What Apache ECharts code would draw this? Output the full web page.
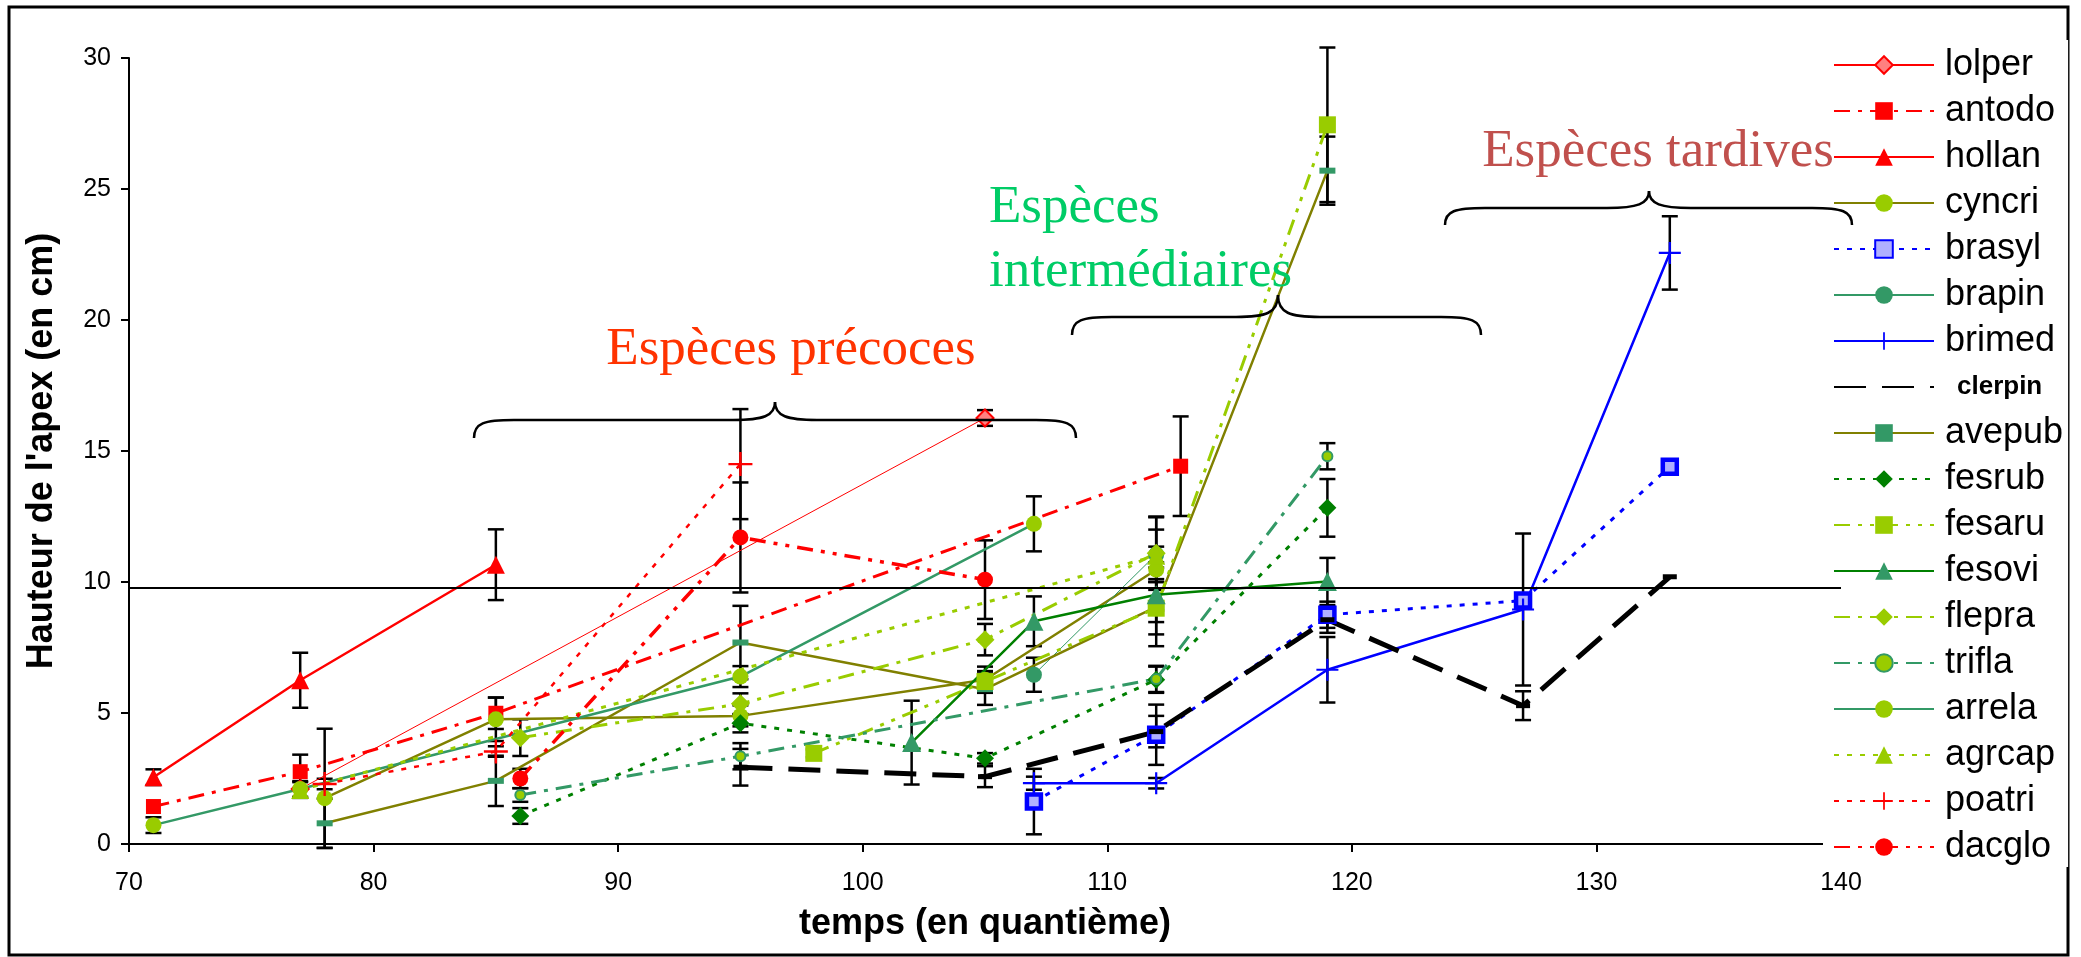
<!DOCTYPE html>
<html>
<head>
<meta charset="utf-8">
<title>Hauteur de l'apex</title>
<script src="https://cdn.jsdelivr.net/npm/echarts@6/dist/echarts.min.js"></script>
<style>
    html, body {margin: 0; padding: 0; background: #fff;}
    #chart {width: 2081px; height: 957px;}
</style>
</head>
<body>
<div id="chart"></div>
<script>
// valeurs : [quantième, hauteur]
var lolper = [[77, 2.1], [105, 16.26]];
var antodo = [[71, 1.43], [77, 2.76], [85, 4.99], [113, 14.42]];
var hollan = [[71, 2.55], [77, 6.25], [85, 10.66]];
var cyncri = [[78, 1.75], [85, 4.76], [95, 4.89], [105, 6.27], [112, 10.47]];
var brasyl = [[107, 1.62], [112, 4.17], [119, 8.75], [127, 9.29], [133, 14.4]];
var brapin = [[107, 6.46], [112, 11.05]];
var brimed = [[107, 2.32], [112, 2.32], [119, 6.65], [127, 8.95], [133, 22.56]];
var clerpin = [[95, 2.93], [105, 2.57], [112, 4.29], [119, 8.56], [127, 5.28], [133, 10.2]];
var avepub = [[78, 0.79], [85, 2.41], [95, 7.69], [105, 5.91], [112, 9.05], [119, 25.7]];
var fesrub = [[86, 1.07], [95, 4.61], [105, 3.27], [112, 6.27], [119, 12.83]];
var fesaru = [[98, 3.46], [105, 6.2], [112, 9.0], [119, 27.45]];
var fesovi = [[102, 3.87], [107, 8.5], [112, 9.51], [119, 10.02]];
var flepra = [[86, 4.06], [95, 5.35], [105, 7.8], [112, 11.1]];
var trifla = [[86, 1.87], [95, 3.35], [112, 6.3], [119, 14.8]];
var arrela = [[71, 0.72], [77, 2.1], [95, 6.39], [107, 12.22]];
var agrcap = [[77, 2.06], [112, 11.0]];
var poatri = [[78, 2.29], [85, 3.53], [95, 14.5]];
var dacglo = [[86, 2.5], [95, 11.7], [105, 10.09]];

// barres d'erreur (demi-largeur), dans l'ordre des points
var lolperErr = [0, 0.3];
var antodoErr = [0, 0.65, 0.6, 1.9];
var hollanErr = [0.3, 1.05, 1.35];
var cyncriErr = [2.65, 0.83, 0.4, 0.5, 2.0];
var brasylErr = [1.25, 1.15, 0.5, 0, 0];
var brapinErr = [0.65, 0.3];
var brimedErr = [0.25, 0.2, 1.25, 2.9, 1.4];
var clerpinErr = [0.7, 0.4, 0.6, 0.5, 0.55, 0];
var avepubErr = [0.94, 0.96, 1.4, 0.6, 1.5, 1.3];
var fesrubErr = [0.3, 0.35, 0.2, 0.5, 1.1];
var fesaruErr = [0.15, 0.4, 1.0, 2.95];
var fesoviErr = [1.6, 0.95, 0.6, 0.9];
var flepraErr = [0.7, 0.4, 0.6, 1.4];
var triflaErr = [0.26, 0.5, 0.5, 0.5];
var arrelaErr = [0.3, 0.3, 0.4, 1.05];
var agrcapErr = [0.3, 1.0];
var poatriErr = [0.2, 0.2, 2.1];
var dacgloErr = [0.37, 2.1, 1.5];

var seuil = 9.77; // ligne horizontale

var especes = ['lolper', 'antodo', 'hollan', 'cyncri', 'brasyl', 'brapin', 'brimed', 'clerpin', 'avepub',
    'fesrub', 'fesaru', 'fesovi', 'flepra', 'trifla', 'arrela', 'agrcap', 'poatri', 'dacglo'];
var donnees = {
    lolper: [lolper, lolperErr], antodo: [antodo, antodoErr], hollan: [hollan, hollanErr],
    cyncri: [cyncri, cyncriErr], brasyl: [brasyl, brasylErr], brapin: [brapin, brapinErr],
    brimed: [brimed, brimedErr], clerpin: [clerpin, clerpinErr], avepub: [avepub, avepubErr],
    fesrub: [fesrub, fesrubErr], fesaru: [fesaru, fesaruErr], fesovi: [fesovi, fesoviErr],
    flepra: [flepra, flepraErr], trifla: [trifla, triflaErr], arrela: [arrela, arrelaErr],
    agrcap: [agrcap, agrcapErr], poatri: [poatri, poatriErr], dacglo: [dacglo, dacgloErr]
};

var plus = 'path://M9,0H11V9H20V11H11V20H9V11H0V9H9Z';
var dashDot = [16, 8, 4, 8];
var dashDotDot = [16, 8, 4, 8, 4, 8];
var dot = [5, 8];

// styles des séries
var styles = {
    lolper: {color: '#FF0000', width: 1, type: 'solid', symbol: 'diamond', size: 17, fill: '#FF8080', border: '#FF0000'},
    antodo: {color: '#FF0000', width: 3, type: dashDot, symbol: 'rect', size: 15, fill: '#FF0000'},
    hollan: {color: '#FF0000', width: 2.5, type: 'solid', symbol: 'triangle', size: 18, fill: '#FF0000'},
    cyncri: {color: '#808000', width: 2.5, type: 'solid', symbol: 'circle', size: 16, fill: '#99CC00'},
    brasyl: {color: '#0000FF', width: 3, type: dot, symbol: 'rect', size: 14, fill: '#B0B0FF', border: '#0000FF', bw: 4.5},
    brapin: {color: '#339966', width: 1, type: 'solid', symbol: 'circle', size: 16, fill: '#339966'},
    brimed: {color: '#0000FF', width: 2.5, type: 'solid', symbol: plus, size: 22, fill: '#0000FF'},
    clerpin: {color: '#000000', width: 5, type: [32, 16], symbol: 'rect', size: [14, 5], fill: '#000000'},
    avepub: {color: '#808000', width: 2.5, type: 'solid', symbol: 'rect', size: [16, 6], fill: '#339966'},
    fesrub: {color: '#008000', width: 3, type: dot, symbol: 'diamond', size: 18, fill: '#008000'},
    fesaru: {color: '#99CC00', width: 3, type: dashDotDot, symbol: 'rect', size: 17, fill: '#99CC00'},
    fesovi: {color: '#008000', width: 2.5, type: 'solid', symbol: 'triangle', size: 19, fill: '#339966'},
    flepra: {color: '#99CC00', width: 3, type: dashDot, symbol: 'diamond', size: 19, fill: '#99CC00'},
    trifla: {color: '#339966', width: 3, type: dashDot, symbol: 'circle', size: 10, fill: '#99CC00', border: '#339966', bw: 2},
    arrela: {color: '#339966', width: 2.5, type: 'solid', symbol: 'circle', size: 16, fill: '#99CC00'},
    agrcap: {color: '#99CC00', width: 3, type: dot, symbol: 'triangle', size: 18, fill: '#99CC00'},
    poatri: {color: '#FF0000', width: 2.5, type: dot, symbol: plus, size: 24, fill: '#FF0000'},
    dacglo: {color: '#FF0000', width: 3.5, type: dashDotDot, symbol: 'circle', size: 16, fill: '#FF0000'}
};

// barres d'erreur : [x, bas, haut]
var barres = [];
especes.forEach(function (nom) {
    var pts = donnees[nom][0], err = donnees[nom][1];
    pts.forEach(function (p, i) {
        if (err[i] > 0) {
            barres.push([p[0], Math.max(p[1] - err[i], -0.15), p[1] + err[i]]);
        }
    });
});

function renderErr(params, api) {
    var x = api.value(0);
    var bas = api.coord([x, api.value(1)]);
    var haut = api.coord([x, api.value(2)]);
    var w = 8;
    var st = {stroke: '#000', lineWidth: 2.5};
    return {
        type: 'group',
        children: [
            {type: 'line', shape: {x1: bas[0], y1: bas[1], x2: haut[0], y2: haut[1]}, style: st},
            {type: 'line', shape: {x1: bas[0] - w, y1: bas[1], x2: bas[0] + w, y2: bas[1]}, style: st},
            {type: 'line', shape: {x1: haut[0] - w, y1: haut[1], x2: haut[0] + w, y2: haut[1]}, style: st}
        ]
    };
}

var series = [{
    type: 'custom',
    name: 'erreurs',
    renderItem: renderErr,
    data: barres,
    z: 1,
    silent: true
}];
especes.forEach(function (nom) {
    var s = styles[nom];
    var serie = {
        name: nom,
        type: 'line',
        data: donnees[nom][0],
        symbol: s.symbol,
        symbolSize: s.size,
        showSymbol: true,
        lineStyle: {color: s.color, width: s.width, type: s.type},
        itemStyle: {color: s.fill, borderColor: s.border || s.fill, borderWidth: s.bw || (s.border ? 2 : 0)},
        z: 2,
        animation: false
    };
    if (nom === 'hollan') {
        serie.markLine = {
            silent: true,
            symbol: 'none',
            label: {show: false},
            lineStyle: {color: '#000', type: 'solid', width: 2},
            data: [{yAxis: seuil}]
        };
    }
    series.push(serie);
});

// entrées de légende : clerpin sans symbole, juste les tirets
var legendData = especes.map(function (nom) {
    return nom === 'clerpin' ? {name: nom, itemStyle: {opacity: 0}} : nom;
});

var braceStyle = {fill: 'none', stroke: '#000', lineWidth: 2.5};

// accolade horizontale (pointe vers le haut), faite de courbes et de segments
function accolade(x1, x2, xc, yL, yc, yEnd) {
    function bez(ax, ay, c1x, c1y, c2x, c2y, bx, by) {
        return {type: 'bezierCurve', z: 50, silent: true, style: braceStyle,
            shape: {x1: ax, y1: ay, cpx1: c1x, cpy1: c1y, cpx2: c2x, cpy2: c2y, x2: bx, y2: by}};
    }
    function seg(ax, bx) {
        return {type: 'line', z: 50, silent: true, style: braceStyle, shape: {x1: ax, y1: yL, x2: bx, y2: yL}};
    }
    return [
        bez(x1, yEnd, x1, yL + 3, x1 + 10, yL, x1 + 40, yL),
        seg(x1 + 40, xc - 42),
        bez(xc - 42, yL, xc - 12, yL, xc, yL - 4, xc, yc),
        bez(xc, yc, xc, yL - 4, xc + 12, yL, xc + 42, yL),
        seg(xc + 42, x2 - 40),
        bez(x2 - 40, yL, x2 - 10, yL, x2, yL + 3, x2, yEnd)
    ];
}

var serif = 'Liberation Serif';
function texte(x, y, txt, couleur, align) {
    return {type: 'text', z: 50, x: x, y: y, silent: true,
        style: {text: txt, font: '53px "' + serif + '"', fill: couleur, textAlign: align, textVerticalAlign: 'bottom'}};
}

var decor = [
    {type: 'rect', z: 0, silent: true, shape: {x: 9, y: 7, width: 2059, height: 948}, style: {fill: 'none', stroke: '#000', lineWidth: 3}},
    texte(791, 377, 'Espèces précoces', '#FF3300', 'center'),
    texte(989, 235, 'Espèces', '#00CC66', 'left'),
    texte(989, 299, 'intermédiaires', '#00CC66', 'left'),
    texte(1658, 179, 'Espèces tardives', '#C0504D', 'center')
].concat(
    accolade(474, 1076, 775, 420, 402, 438),
    accolade(1072, 1481, 1278, 317, 295, 335),
    accolade(1445, 1852, 1649, 208, 191, 225)
);

var myChart = echarts.init(document.getElementById('chart'));
myChart.setOption({
    backgroundColor: '#fff',
    animation: false,
    grid: {left: 129, right: 240, top: 58, bottom: 113},
    xAxis: {
        type: 'value',
        min: 70,
        max: 140,
        interval: 10,
        name: 'temps (en quantième)',
        nameLocation: 'middle',
        nameGap: 62,
        nameMoveOverlap: false,
        nameTextStyle: {fontSize: 36, fontWeight: 'bold', fontFamily: 'Liberation Sans', color: '#000'},
        axisLine: {lineStyle: {color: '#000', width: 2}},
        axisTick: {length: 8, lineStyle: {color: '#000', width: 2}},
        axisLabel: {fontSize: 25, fontFamily: 'Liberation Sans', color: '#000', margin: 27},
        splitLine: {show: false}
    },
    yAxis: {
        type: 'value',
        min: 0,
        max: 30,
        interval: 5,
        name: "Hauteur de l'apex (en cm)",
        nameLocation: 'middle',
        nameGap: 69,
        nameMoveOverlap: false,
        nameTextStyle: {fontSize: 36, fontWeight: 'bold', fontFamily: 'Liberation Sans', color: '#000'},
        axisLine: {show: true, lineStyle: {color: '#000', width: 2}},
        axisTick: {show: true, length: 8, lineStyle: {color: '#000', width: 2}},
        axisLabel: {fontSize: 25, fontFamily: 'Liberation Sans', color: '#000', margin: 18},
        splitLine: {show: false}
    },
    legend: {
        data: legendData,
        orient: 'vertical',
        left: 1823,
        top: 40,
        padding: [5, 5, 0, 10],
        itemWidth: 100,
        itemHeight: 22,
        itemGap: 6,
        backgroundColor: '#fff',
        selectedMode: false,
        formatter: function (name) {
            return name === 'clerpin' ? '{b|' + name + '}' : name;
        },
        textStyle: {
            fontSize: 36,
            lineHeight: 40,
            fontFamily: 'Liberation Sans',
            color: '#000',
            padding: [0, 0, 0, 6],
            rich: {
                b: {fontSize: 26, fontWeight: 'bold', lineHeight: 40, fontFamily: 'Liberation Sans', padding: [0, 0, 0, 12]}
            }
        }
    },
    graphic: decor,
    series: series
});
</script>
</body>
</html>
